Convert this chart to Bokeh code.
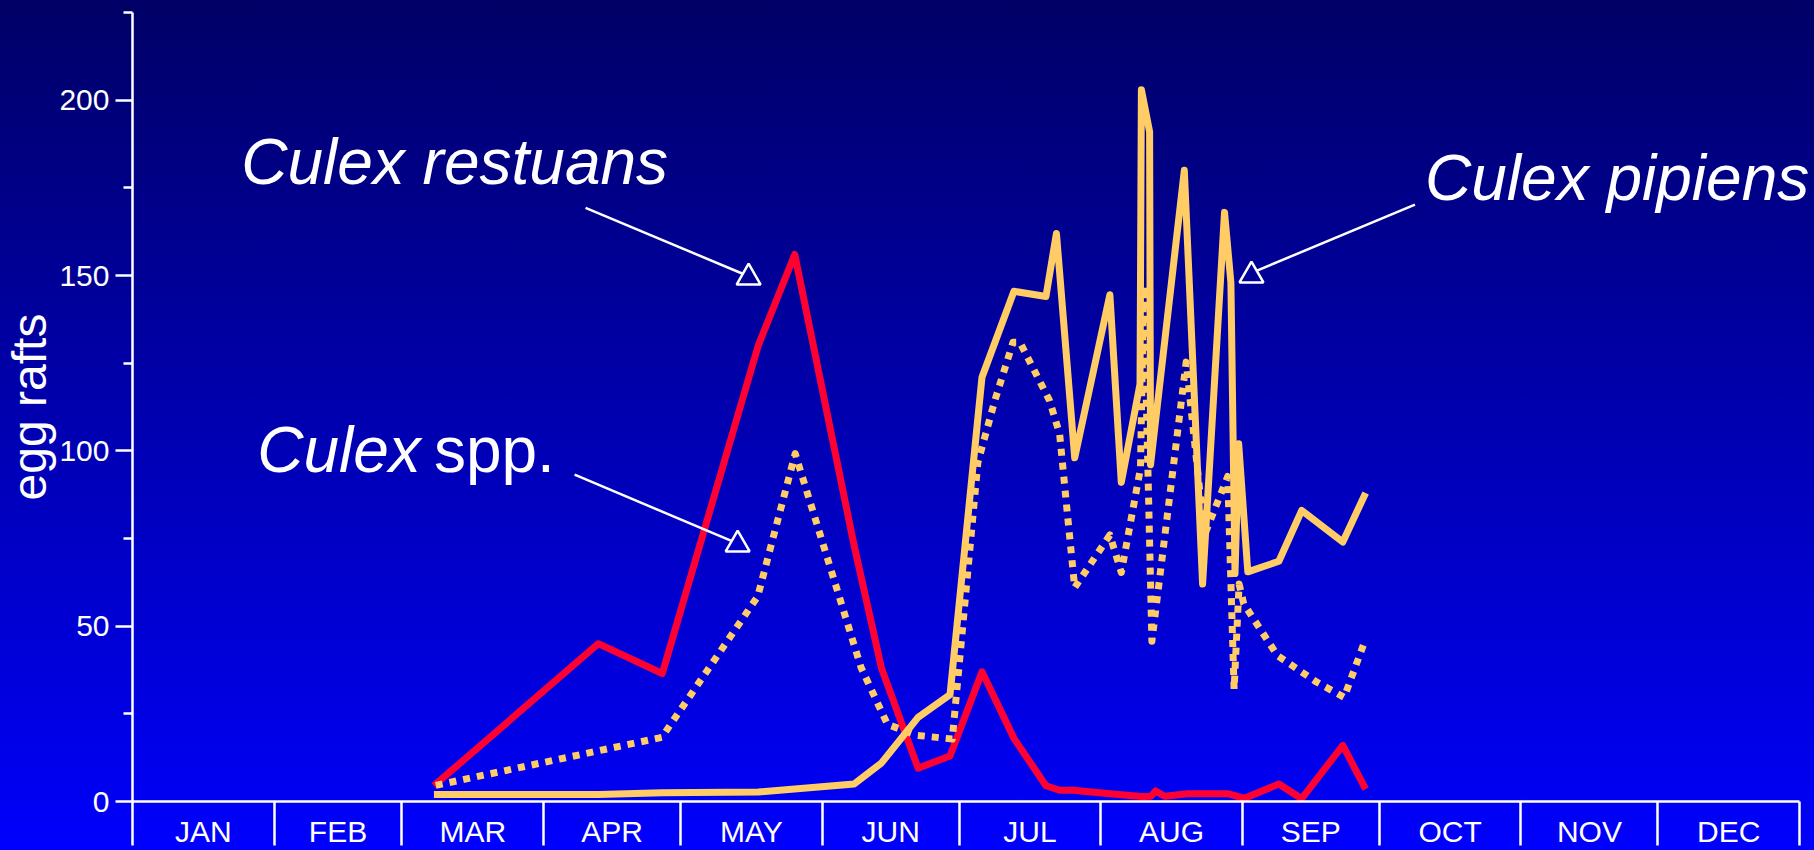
from bokeh.plotting import figure
from bokeh.models import FixedTicker, Range1d, Label
from bokeh.embed import file_html
from bokeh.resources import INLINE

# ---------------- data ----------------
months = ["JAN", "FEB", "MAR", "APR", "MAY", "JUN", "JUL", "AUG", "SEP", "OCT", "NOV", "DEC"]
month_edges = [0, 31, 59, 90, 120, 151, 181, 212, 243, 273, 304, 334, 365]
y_ticks = [0, 50, 100, 150, 200]
y_minor_ticks = [25, 75, 125, 175, 225]

# Culex restuans (red)
restuans_day = [66, 102, 116, 137, 145, 158, 164, 172, 179, 186, 193, 200, 203, 206, 214,
                221, 223, 224, 226, 231, 240, 243.5, 251, 256, 265, 270]
restuans_val = [4.5, 45, 36.5, 130, 156, 73, 38, 9.5, 13, 37, 18, 4.5, 3.2, 3.2, 2.2,
                1.4, 1.5, 3.0, 1.5, 2.2, 2.2, 0.9, 5, 0.8, 16, 3.5]

# Culex pipiens (solid yellow)
pipiens_day = [66, 102, 116, 137, 158, 164, 172, 179, 186, 193, 200, 202.3, 206.3, 214, 216.5,
               220.6, 220.9, 222.7, 222.9, 230.3, 234.3, 239.1, 240.5, 241.4, 242.2, 244.2,
               251, 256, 265, 270]
pipiens_val = [2, 2, 2.5, 2.7, 5, 11, 24, 30.5, 121, 145.5, 144, 162, 98, 144.5, 91,
               119, 203, 191, 96, 180, 62, 168, 148, 65, 102, 65.5,
               68.5, 83, 74, 88]

# Culex spp. (dotted yellow)
spp_day = [66.4, 115.9, 136.9, 145.1, 159.5, 165.3, 171.6, 179.5, 185.1, 188.8, 192.8, 194.3,
           200.8, 203, 204.7, 206.3, 214, 216.5, 220.7, 221.4, 223.2, 230.7, 234.7, 239.8,
           241.2, 242.3, 243.3, 250.7, 259.1, 265.3, 270]
spp_val = [4.6, 18.3, 58.5, 99.2, 38.3, 22, 18.9, 17.8, 96.7, 114.3, 131, 131,
           114.3, 104.8, 82, 61, 76, 65.3, 95, 147, 45.7, 125.3, 75.9, 92.7,
           32, 62, 56.4, 41.6, 34.2, 29.7, 46.4]

# ---------------- layout / styles ----------------
RED = "#FF0033"
YELLOW = "#FFCC66"
WHITE = "#FFFFFF"
FONT = "Liberation Sans"

W, H = 1814, 850
LEFT, TOP, BOTTOM = 130, 12, 49
AXIS_RIGHT_PX = 1799                     # where the DEC divider sits
px_per_day = (AXIS_RIGHT_PX - LEFT) / 365.0
x_end = 365 + (W - AXIS_RIGHT_PX) / px_per_day   # extra room so labels are not clipped

p = figure(width=W, height=H, output_backend="svg", toolbar_location=None,
           x_range=Range1d(0, x_end), y_range=Range1d(0, 225),
           min_border_left=LEFT, min_border_right=0, min_border_top=TOP,
           min_border_bottom=BOTTOM)
p.styles = {"position": "absolute", "left": "0px", "top": "0px",
            "background": "linear-gradient(to bottom, #000066 0%, #0000F2 94%, #0000FF 100%)"}
p.background_fill_color = None
p.border_fill_color = None
p.outline_line_color = None
p.xgrid.visible = False
p.ygrid.visible = False

# x axis: month labels at mid-month, divider lines at month edges
centers = []
overrides = {}
for name, a, b in zip(months, month_edges[:-1], month_edges[1:]):
    c = (a + b) / 2
    c = int(c) if c == int(c) else c
    centers.append(c)
    overrides[c] = name
xa = p.xaxis[0]
xa.bounds = (0, 365)
xa.ticker = FixedTicker(ticks=centers, minor_ticks=month_edges)
xa.major_label_overrides = overrides
xa.major_tick_line_color = None
xa.major_tick_out = 0
xa.major_tick_in = 0
xa.minor_tick_out = 44
xa.minor_tick_in = 0
xa.minor_tick_line_color = WHITE
xa.minor_tick_line_width = 2.5
xa.axis_line_color = WHITE
xa.axis_line_width = 2.5
xa.major_label_text_color = WHITE
xa.major_label_text_font = FONT
xa.major_label_text_font_size = "30px"
xa.major_label_standoff = -31

ya = p.yaxis[0]
ya.ticker = FixedTicker(ticks=y_ticks, minor_ticks=y_minor_ticks)
ya.major_tick_out = 17
ya.major_tick_in = 0
ya.minor_tick_out = 9
ya.minor_tick_in = 0
ya.major_tick_line_color = WHITE
ya.minor_tick_line_color = WHITE
ya.major_tick_line_width = 2.5
ya.minor_tick_line_width = 2.5
ya.axis_line_color = WHITE
ya.axis_line_width = 2.5
ya.major_label_text_color = WHITE
ya.major_label_text_font = FONT
ya.major_label_text_font_size = "30px"
ya.major_label_standoff = 6
ya.axis_label = "egg rafts"
ya.axis_label_text_color = WHITE
ya.axis_label_text_font = FONT
ya.axis_label_text_font_style = "normal"
ya.axis_label_text_font_size = "48px"
ya.axis_label_standoff = 0

# ---------------- series ----------------
p.line(restuans_day, restuans_val, line_color=RED, line_width=7, line_join="round")
p.line(spp_day, spp_val, line_color=YELLOW, line_width=7, line_dash="7 7", line_join="round")
p.line(pipiens_day, pipiens_val, line_color=YELLOW, line_width=7, line_join="round")

# ---------------- annotations ----------------
arrows = [
    # (start_x, start_y, end_x, end_y, head_x, head_y)
    (99.2, 169.3, 133.6, 150.5, 134.9, 149.4),
    (96.8, 93.2, 131.0, 74.4, 132.5, 73.3),
    (280.8, 170.2, 246.2, 151.4, 245.0, 150.0),
]
for sx, sy, ex, ey, hx, hy in arrows:
    p.line([sx, ex], [sy, ey], line_color=WHITE, line_width=2.5)
    p.scatter([hx], [hy], marker="triangle", size=24, fill_color=None,
              line_color=WHITE, line_width=2.5)

labels = [
    ("Culex restuans", 23.8, 182.4, "italic"),
    ("Culex", 27.3, 100.2, "italic"),
    ("spp.", 66.0, 100.2, "normal"),
    ("Culex pipiens", 283.0, 177.9, "italic"),
]
for txt, lx, ly, style in labels:
    p.add_layout(Label(x=lx, y=ly, text=txt, text_color=WHITE, text_font=FONT,
                       text_font_size="64px", text_font_style=style,
                       text_baseline="alphabetic", text_align="left"))

open("out.html", "w").write(file_html(p, INLINE))
